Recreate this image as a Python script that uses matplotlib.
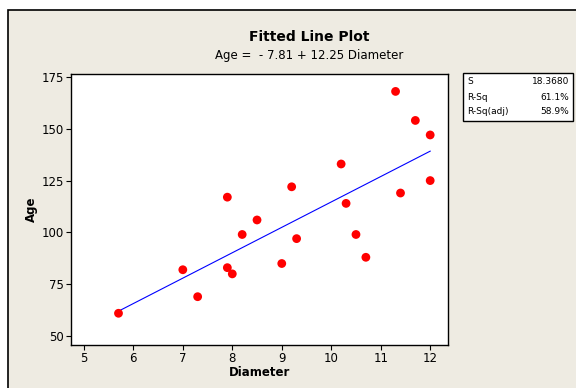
import matplotlib
matplotlib.use("Agg")
import matplotlib.pyplot as plt
from matplotlib.patches import Rectangle
import numpy as np

# Observations
diameter = [5.7, 7.0, 7.3, 7.9, 7.9, 8.0, 8.2, 8.5, 9.0, 9.2,
            9.3, 10.2, 10.3, 10.5, 10.7, 11.3, 11.4, 11.7, 12.0, 12.0]
age = [61, 82, 69, 117, 83, 80, 99, 106, 85, 122,
       97, 133, 114, 99, 88, 168, 119, 154, 147, 125]

# Regression results
intercept = -7.81
slope = 12.25
stat_names = ["S", "R-Sq", "R-Sq(adj)"]
stat_values = ["18.3680", "61.1%", "58.9%"]

x_ticks = [5, 6, 7, 8, 9, 10, 11, 12]
y_ticks = [50, 75, 100, 125, 150, 175]

W, H = 576, 388
bg = "#EEEBE2"
plt.rcParams["font.family"] = ["DejaVu Sans"]

fig = plt.figure(figsize=(W / 100, H / 100), dpi=100)
fig.patch.set_facecolor("white")

def fx(px):
    return px / W

def fy(py):
    return 1 - py / H

# Outer panel, kept behind everything
fig.patches.append(Rectangle((fx(8), fy(400)), fx(600) - fx(8), fy(10) - fy(400),
                             transform=fig.transFigure, facecolor=bg,
                             edgecolor="black", linewidth=1.2, zorder=-10))

ax = fig.add_axes([fx(71), fy(345), fx(448) - fx(71), fy(74) - fy(345)])
ax.set_facecolor("white")
ax.set_xlim(4.74, 12.36)
ax.set_ylim(45.7, 176.4)
for s in ax.spines.values():
    s.set_linewidth(1.0)
    s.set_color("black")

ax.set_xticks(x_ticks)
ax.set_yticks(y_ticks)
ax.tick_params(direction="out", length=3.5, width=0.8, labelsize=8.5, pad=1.5)

xl = np.linspace(min(diameter), max(diameter), 50)
ax.plot(xl, intercept + slope * xl, color="#0000FF", linewidth=0.8, zorder=2)
ax.scatter(diameter, age, s=40, color="#FF0000", edgecolors="none", zorder=3)

ax.set_xlabel("Diameter", fontsize=8.5, fontweight="bold", labelpad=1)
ax.set_ylabel("Age", fontsize=8.5, fontweight="bold", labelpad=3)

fig.text(fx(309), fy(37), "Fitted Line Plot", ha="center", va="center",
         fontsize=10, fontweight="bold")
fig.text(fx(309), fy(55), "Age =  - 7.81 + 12.25 Diameter", ha="center",
         va="center", fontsize=8.5)

# Summary box
fig.patches.append(Rectangle((fx(463), fy(121)), fx(573) - fx(463), fy(73) - fy(121),
                             transform=fig.transFigure, facecolor="white",
                             edgecolor="black", linewidth=1.0, zorder=1))
for i, (n, v) in enumerate(zip(stat_names, stat_values)):
    yy = fy(82 + 15 * i)
    fig.text(fx(467), yy, n, ha="left", va="center", fontsize=6.5, zorder=5)
    fig.text(fx(569), yy, v, ha="right", va="center", fontsize=6.5, zorder=5)

fig.savefig("out.png", dpi=100, facecolor=fig.get_facecolor())
